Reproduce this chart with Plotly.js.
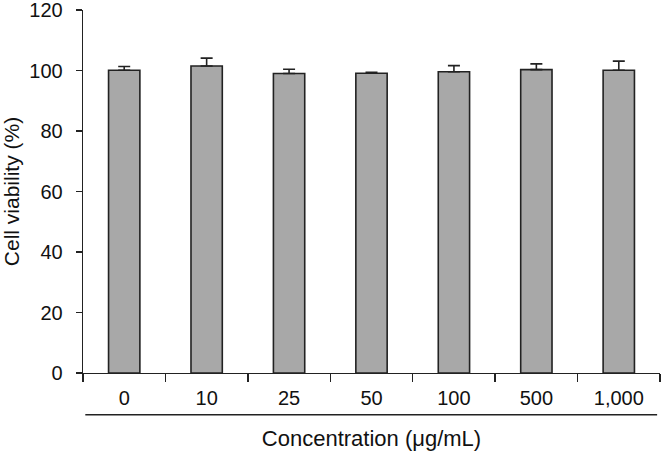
<!DOCTYPE html>
<html>
<head>
<meta charset="utf-8">
<script src="https://cdn.plot.ly/plotly-3.0.1.min.js"></script>
<style>
  html, body { margin: 0; padding: 0; background: #fff; }
  #chart { width: 662px; height: 451px; }
</style>
</head>
<body>
<div id="chart"></div>
<script>
// Cell viability vs concentration
const concentrations = ['0', '10', '25', '50', '100', '500', '1,000'];
const viability = [100.1, 101.5, 99.0, 99.1, 99.6, 100.3, 100.1];
const viabilityErr = [1.2, 2.6, 1.4, 0.3, 2.0, 1.9, 3.0];

const font = { family: 'Liberation Sans, Arial, sans-serif', color: '#111', size: 20 };

const trace = {
    type: 'bar',
    x: concentrations,
    y: viability,
    width: 0.38,
    marker: { color: '#a8a8a8', line: { color: '#222', width: 1.6 } },
    error_y: { type: 'data', array: viabilityErr, symmetric: false, arrayminus: viabilityErr.map(() => 0), color: '#222', thickness: 1.6, width: 6 },
    hoverinfo: 'skip',
};

const layout = {
    width: 662,
    height: 451,
    paper_bgcolor: '#fff',
    plot_bgcolor: '#fff',
    font: font,
    showlegend: false,
    margin: { t: 10, b: 78, l: 83, r: 2 },
    xaxis: {
        type: 'category',
        range: [-0.5, 6.5],
        showline: true,
        linecolor: '#222',
        linewidth: 1.3,
        ticks: 'outside',
        tickson: 'boundaries',
        ticklen: 8,
        tickwidth: 1.3,
        tickcolor: '#222',
        ticklabelstandoff: 7,
        showgrid: false,
        zeroline: false,
        tickfont: { size: 20 },
        title: { text: 'Concentration (\u03bcg/mL)', font: { size: 22 }, standoff: 23 },
    },
    yaxis: {
        range: [0, 120],
        dtick: 20,
        showline: true,
        linecolor: '#222',
        linewidth: 1.3,
        ticks: 'outside',
        ticklen: 6,
        tickwidth: 1.3,
        tickcolor: '#222',
        ticklabelstandoff: 9,
        ticklabeloverflow: 'allow',
        showgrid: false,
        zeroline: false,
        tickfont: { size: 20 },
        title: { text: 'Cell viability (%)', font: { size: 21 }, standoff: 6 },
    },
    shapes: [
        // rule between tick labels and axis title
        { type: 'line', xref: 'paper', yref: 'paper', x0: 0.004, x1: 0.995, y0: -0.115, y1: -0.115, line: { color: '#222', width: 1.3 } },
    ],
};

Plotly.newPlot('chart', [trace], layout, { displayModeBar: false, staticPlot: true });
</script>
</body>
</html>
